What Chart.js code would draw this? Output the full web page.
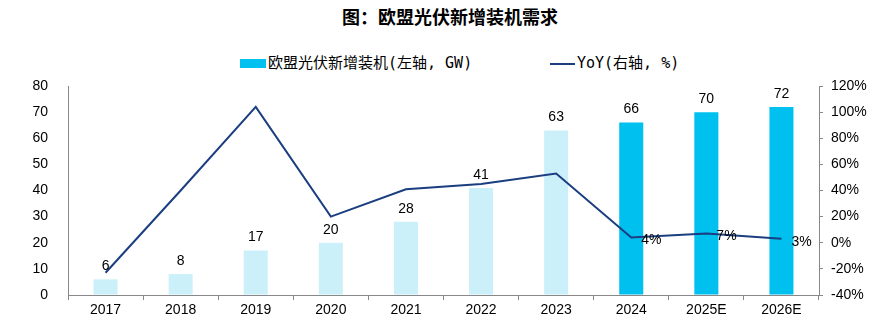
<!DOCTYPE html>
<html>
<head>
<meta charset="utf-8">
<script src="https://cdn.jsdelivr.net/npm/chart.js@4"></script>
<style>
  html, body { margin: 0; padding: 0; background: #fff; }
  #wrap { position: relative; width: 871px; height: 326px; overflow: hidden; }
  #title { position: absolute; left: 0; top: 3px; width: 900px; text-align: center;
           font: bold 18px "Noto Sans CJK SC", sans-serif; color: #000; }
  #legend { position: absolute; top: 52px; left: 0; width: 871px; height: 22px;
            font: 15px "DejaVu Sans Mono", "Noto Sans CJK SC", monospace; color: #000; }
  .lg { position: absolute; top: 0; white-space: nowrap; line-height: 22px; }
  .sw { display: inline-block; vertical-align: middle; margin-right: 2px; }
  canvas { position: absolute; left: 0; top: 0; }
</style>
</head>
<body>
<div id="wrap">
  <div id="title">图：欧盟光伏新增装机需求</div>
  <div id="legend">
    <span class="lg" style="left:240px"><span class="sw" style="width:26px;height:9px;background:#00c0f0"></span>欧盟光伏新增装机(左轴, GW)</span>
    <span class="lg" style="left:550px"><span class="sw" style="width:25px;height:2px;background:#1a3e80"></span>YoY(右轴, %)</span>
  </div>
  <canvas id="c" width="871" height="326"></canvas>
</div>
<script>
// categories and values
const years = ['2017', '2018', '2019', '2020', '2021', '2022', '2023', '2024', '2025E', '2026E'];
const installGW = [6, 8, 17, 20, 28, 41, 63, 66, 70, 72];
const yoyPct = [-23, 40, 104, 20, 41, 45, 53, 4, 7, 3];
const yoyLabelShown = [false, false, false, false, false, false, false, true, true, true];
const leftTicks = [0, 10, 20, 30, 40, 50, 60, 70, 80];
const rightTicks = [-40, -20, 0, 20, 40, 60, 80, 100, 120];

const barColors = years.map((y, i) => i < 7 ? '#ccf0fa' : '#00c0f0');
const axisColor = '#888888';
const tickFont = { family: '"Liberation Sans", Arial, sans-serif', size: 14 };

// draws value labels above bars and next to the last yoy points
const valueLabels = {
    id: 'valueLabels',
    afterDatasetsDraw(chart) {
        const ctx = chart.ctx;
        ctx.save();
        ctx.font = '14px "Liberation Sans", Arial, sans-serif';
        ctx.fillStyle = '#000';
        const bars = chart.getDatasetMeta(1).data;
        ctx.textAlign = 'center';
        ctx.textBaseline = 'bottom';
        bars.forEach((b, i) => {
            ctx.fillText(String(installGW[i]), b.x, b.y - 6);
        });
        const pts = chart.getDatasetMeta(0).data;
        ctx.textAlign = 'left';
        ctx.textBaseline = 'middle';
        pts.forEach((p, i) => {
            if (yoyLabelShown[i]) ctx.fillText(yoyPct[i] + '%', p.x + 10, p.y + 3);
        });
        ctx.restore();
    }
};

new Chart(document.getElementById('c'), {
    data: {
        labels: years,
        datasets: [{
            type: 'line',
            label: 'YoY(右轴, %)',
            data: yoyPct,
            yAxisID: 'y1',
            borderColor: '#1a3e80',
            borderWidth: 2,
            pointRadius: 0,
            tension: 0,
            order: 0
        }, {
            type: 'bar',
            label: '欧盟光伏新增装机(左轴, GW)',
            data: installGW,
            yAxisID: 'y',
            backgroundColor: barColors,
            barPercentage: 0.32,
            categoryPercentage: 1,
            order: 1
        }]
    },
    options: {
        responsive: false,
        animation: false,
        layout: { padding: { top: 86, left: 0, right: 0, bottom: 0 } },
        plugins: { legend: { display: false }, title: { display: false }, tooltip: { enabled: false } },
        scales: {
            x: {
                offset: true,
                grid: { offset: true, drawOnChartArea: false, drawTicks: true, tickLength: 5, color: axisColor },
                border: { color: axisColor, width: 1 },
                ticks: { color: '#000', font: tickFont, padding: 2, maxRotation: 0 },
                afterFit(s) { s.height = 31; }
            },
            y: {
                position: 'left',
                min: 0, max: 80,
                afterBuildTicks(s) { s.ticks = leftTicks.map(v => ({ value: v })); },
                grid: { drawOnChartArea: false, drawTicks: false },
                border: { color: axisColor, width: 1 },
                ticks: { color: '#000', font: tickFont, padding: 20 },
                afterFit(s) { s.width = 68; }
            },
            y1: {
                position: 'right',
                min: -40, max: 120,
                afterBuildTicks(s) { s.ticks = rightTicks.map(v => ({ value: v })); },
                grid: { drawOnChartArea: false, drawTicks: true, tickLength: 4, color: axisColor },
                border: { color: axisColor, width: 1 },
                ticks: { color: '#000', font: tickFont, padding: 8, callback: v => v + '%' },
                afterFit(s) { s.width = 52; }
            }
        }
    },
    plugins: [valueLabels]
});
</script>
</body>
</html>
